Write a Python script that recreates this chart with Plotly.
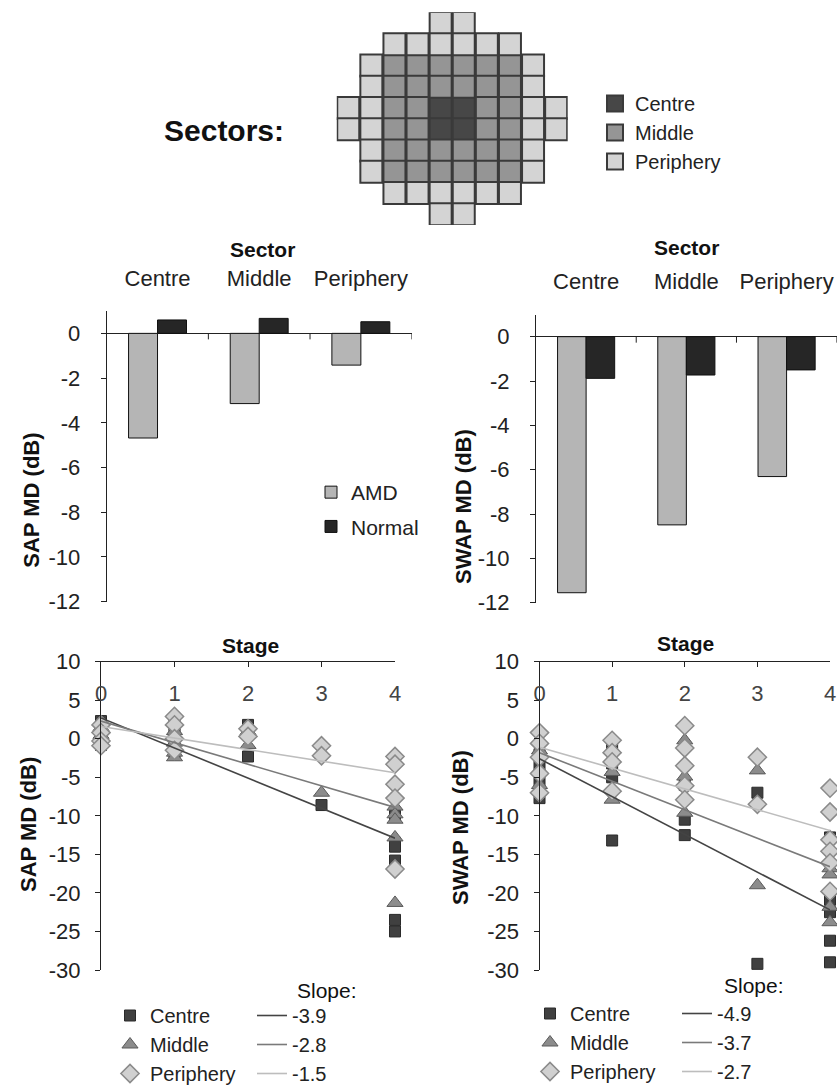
import plotly.graph_objects as go

# ---------------- data ----------------
sectors = ["Centre", "Middle", "Periphery"]
sap_amd = [-4.68, -3.14, -1.42]
sap_normal = [0.60, 0.67, 0.52]
swap_amd = [-11.55, -8.49, -6.31]
swap_normal = [-1.88, -1.73, -1.50]

stages = [0, 1, 2, 3, 4]

# SAP MD per stage (one list per stage) for each sector
sap_centre = [[2.3, 1.2, 0.2, -0.8], [1.8, 0.5, -1.2, -2.0], [1.8, 1.2, -2.3], [-8.6],
              [-10.0, -13.5, -14.0, -15.8, -23.5, -25.0]]
sap_middle = [[1.5, 0.5, -0.5], [1.0, -0.5, -1.8, -2.4], [1.0, -0.8], [-7.0],
              [-8.8, -9.8, -10.5, -12.8, -21.3]]
sap_periph = [[1.8, 0.8, -0.3, -0.9], [2.9, 1.8, 0.0, -1.5], [1.3, 0.3], [-0.9, -2.2],
              [-2.3, -3.3, -5.9, -7.7, -16.9]]

# SWAP MD per stage
swap_centre = [[-2.0, -3.5, -5.5, -7.7], [-1.0, -3.2, -5.0, -13.2], [-6.0, -10.5, -12.5],
               [-7.0, -29.2], [-12.8, -20.9, -22.5, -26.2, -29.0]]
swap_middle = [[-1.5, -4.0, -6.0], [-4.3, -7.9], [-0.2, -4.9, -9.6], [-4.1, -19.0],
               [-16.8, -17.6, -21.8, -23.8]]
swap_periph = [[0.8, -0.6, -2.4, -4.5, -7.0], [-0.2, -1.8, -3.0, -6.8],
               [1.7, -1.2, -3.5, -6.1, -7.9], [-2.4, -8.5],
               [-6.4, -9.5, -13.1, -14.6, -16.1, -19.8]]

# linear fits (slope, intercept)
sap_slopes = [-3.9, -2.8, -1.5]
sap_intercepts = [2.7, 2.3, 1.6]
swap_slopes = [-4.9, -3.7, -2.7]
swap_intercepts = [-2.6, -1.8, -1.1]

# tick values
bar_ticks = [-12, -10, -8, -6, -4, -2, 0]
md_ticks = [-30, -25, -20, -15, -10, -5, 0, 5, 10]

# visual field sector map (C=centre, M=middle, P=periphery)
grid_rows = [
    "....PP....",
    "..PPPPPP..",
    ".PMMMMMMP.",
    ".PMMMMMMP.",
    "PPMMCCMMPP",
    "PPMMCCMMPP",
    ".PMMMMMMP.",
    ".PMMMMMMP.",
    "..PPPPPP..",
    "....PP....",
]

# ---------------- helpers ----------------
W, H = 837, 1088
def px(x):
    return x / W
def py(y):
    return 1 - y / H

def flatten(groups):
    xs, ys = [], []
    for st, vals in zip(stages, groups):
        xs += [st] * len(vals)
        ys += list(vals)
    return xs, ys

TXT = "#222222"
FONT = "Liberation Sans, Arial, sans-serif"

sector_fill = {"C": "#474747", "M": "#959595", "P": "#d4d4d4"}
sector_name = {"C": "Centre", "M": "Middle", "P": "Periphery"}

marker_style = {
    "Centre": dict(symbol="square", size=11, color="#404040", line=dict(color="#2a2a2a", width=1)),
    "Middle": dict(symbol="triangle-up", size=14, color="#8c8c8c", line=dict(color="#5a5a5a", width=1)),
    "Periphery": dict(symbol="diamond", size=14, color="#d0d0d0", line=dict(color="#8a8a8a", width=1.5)),
}
line_colors = {"Centre": "#444444", "Middle": "#7a7a7a", "Periphery": "#bdbdbd"}

fig = go.Figure()

# ---------------- sector grid ----------------
for code in ["C", "M", "P"]:
    gx, gy = [], []
    for r, row in enumerate(grid_rows):
        for c, ch in enumerate(row):
            if ch == code:
                gx.append(c)
                gy.append(r)
    fig.add_trace(go.Scatter(
        x=gx, y=gy, mode="markers", name=sector_name[code],
        marker=dict(symbol="square", size=22, color=sector_fill[code],
                    line=dict(color="#3a3a3a", width=2)),
        xaxis="x5", yaxis="y5", legend="legend6", hoverinfo="skip"))

# ---------------- bar charts ----------------
fig.add_trace(go.Bar(x=sectors, y=sap_amd, name="AMD", marker=dict(color="#b5b5b5", line=dict(color="#111", width=1)),
                     xaxis="x", yaxis="y", legend="legend", legendgroup="a"))
fig.add_trace(go.Bar(x=sectors, y=sap_normal, name="Normal", marker=dict(color="#262626", line=dict(color="#111", width=1)),
                     xaxis="x", yaxis="y", legend="legend", legendgroup="b"))
fig.add_trace(go.Bar(x=sectors, y=swap_amd, name="AMD", marker=dict(color="#b5b5b5", line=dict(color="#111", width=1)),
                     xaxis="x2", yaxis="y2", showlegend=False))
fig.add_trace(go.Bar(x=sectors, y=swap_normal, name="Normal", marker=dict(color="#262626", line=dict(color="#111", width=1)),
                     xaxis="x2", yaxis="y2", showlegend=False))

# ---------------- scatter charts ----------------
panels = [
    ("x3", "y3", "legend2", "legend3", [sap_centre, sap_middle, sap_periph], sap_slopes, sap_intercepts),
    ("x4", "y4", "legend4", "legend5", [swap_centre, swap_middle, swap_periph], swap_slopes, swap_intercepts),
]
for xa, ya, lgm, lgl, groups, slopes, intercepts in panels:
    for name, grp in zip(sectors, groups):
        xs, ys = flatten(grp)
        fig.add_trace(go.Scatter(x=xs, y=ys, mode="markers", name=name, marker=marker_style[name],
                                 xaxis=xa, yaxis=ya, legend=lgm, cliponaxis=False))
    for name, s, b in zip(sectors, slopes, intercepts):
        lx = [stages[0], stages[-1]]
        ly = [b + s * v for v in lx]
        fig.add_trace(go.Scatter(x=lx, y=ly, mode="lines", name=f"{s:.1f}",
                                 line=dict(color=line_colors[name], width=1.6),
                                 xaxis=xa, yaxis=ya, legend=lgl, cliponaxis=False))

# ---------------- axes ----------------
def bar_x(domain):
    return dict(domain=domain, side="top", type="category", showline=False, ticks="",
                showgrid=False, zeroline=False, range=[-0.5, 2.5], tickfont=dict(size=22),
                ticklabelstandoff=20)

def bar_y(domain, anchor):
    return dict(domain=domain, anchor=anchor, range=[-12, 1], tickvals=bar_ticks,
                ticktext=[str(v) for v in bar_ticks], ticklabelstandoff=16,
                showline=True, linecolor=TXT, linewidth=1, ticks="outside", ticklen=5, tickcolor=TXT,
                zeroline=True, zerolinecolor=TXT, zerolinewidth=1, showgrid=False, tickfont=dict(size=22))

def sc_x(domain, anchor):
    return dict(domain=domain, anchor=anchor, side="top", range=[0, 4], tickvals=stages,
                showline=True, linecolor=TXT, linewidth=1, ticks="inside", ticklen=5, tickcolor=TXT,
                ticklabelposition="inside", ticklabeloverflow="allow", ticklabelstandoff=20,
                showgrid=False, zeroline=False, tickfont=dict(size=22))

def sc_y(domain, anchor):
    return dict(domain=domain, anchor=anchor, range=[-30, 10], tickvals=md_ticks,
                ticktext=[str(v) for v in md_ticks], ticklabelstandoff=10,
                showline=True, linecolor=TXT, linewidth=1, ticks="outside", ticklen=5, tickcolor=TXT,
                showgrid=False, zeroline=False, tickfont=dict(size=22))

layout = dict(
    width=W, height=H, margin=dict(l=0, r=0, t=0, b=0, autoexpand=False),
    paper_bgcolor="white", plot_bgcolor="rgba(0,0,0,0)",
    font=dict(family=FONT, size=22, color=TXT),
    barmode="group", bargap=0.43, bargroupgap=0,
    xaxis=dict(anchor="y", **bar_x([px(106.7), px(411.7)])),
    yaxis=bar_y([py(601.7), py(311)], "x"),
    xaxis2=dict(anchor="y2", **bar_x([px(536), px(836.7)])),
    yaxis2=bar_y([py(602.7), py(314.5)], "x2"),
    xaxis3=sc_x([px(101), px(395)], "y3"),
    yaxis3=sc_y([py(970), py(661.7)], "x3"),
    xaxis4=sc_x([px(539.5), px(830)], "y4"),
    yaxis4=sc_y([py(970), py(661.7)], "x4"),
    xaxis5=dict(domain=[px(336.7), px(567.7)], anchor="y5", range=[-0.5, 9.5], visible=False),
    yaxis5=dict(domain=[py(225), py(12.3)], anchor="x5", range=[9.5, -0.5], visible=False),
    hovermode=False,
)

def legend(x, y, size=20, gap=0):
    return dict(x=px(x), y=py(y), bgcolor="rgba(0,0,0,0)", borderwidth=0,
                font=dict(size=size, color=TXT), xanchor="left", yanchor="top",
                orientation="v", itemsizing="trace", tracegroupgap=gap)

layout["legend"] = legend(311, 472, size=21, gap=4)
layout["legend2"] = legend(110, 996)
layout["legend3"] = legend(252, 996)
layout["legend4"] = legend(530, 994)
layout["legend5"] = legend(677, 994)
layout["legend6"] = legend(595, 84)

# category boundary ticks on the zero line of the bar charts
shapes = []
for xr, yr in [("x", "y"), ("x2", "y2")]:
    for b in [0.5, 1.5, 2.5]:
        shapes.append(dict(type="line", xref=xr, yref=yr, ysizemode="pixel", yanchor=0,
                           x0=b, x1=b, y0=0, y1=-6, line=dict(color=TXT, width=1)))
layout["shapes"] = shapes

def ann(text, x, y, size=22, angle=0, bold=True, xanchor="center"):
    return dict(text=f"<b>{text}</b>" if bold else text, x=px(x), y=py(y), xref="paper", yref="paper",
                showarrow=False, textangle=angle, font=dict(size=size, color="#111"),
                xanchor=xanchor, yanchor="middle")

layout["annotations"] = [
    ann("Sectors:", 224, 131, size=30),
    ann("Sector", 262, 250, size=21),
    ann("Sector", 686.7, 247, size=21),
    ann("Stage", 250, 645, size=21),
    ann("Stage", 685, 643, size=21),
    ann("SAP MD (dB)", 31.7, 500, size=22, angle=-90),
    ann("SWAP MD (dB)", 463, 507, size=22, angle=-90),
    ann("SAP MD (dB)", 28, 825, size=22, angle=-90),
    ann("SWAP MD (dB)", 460, 828, size=22, angle=-90),
    ann("Slope:", 295, 990, size=21, bold=False, xanchor="left"),
    ann("Slope:", 721.7, 985, size=21, bold=False, xanchor="left"),
]

fig.update_layout(**layout)
fig.write_html("out.html")
